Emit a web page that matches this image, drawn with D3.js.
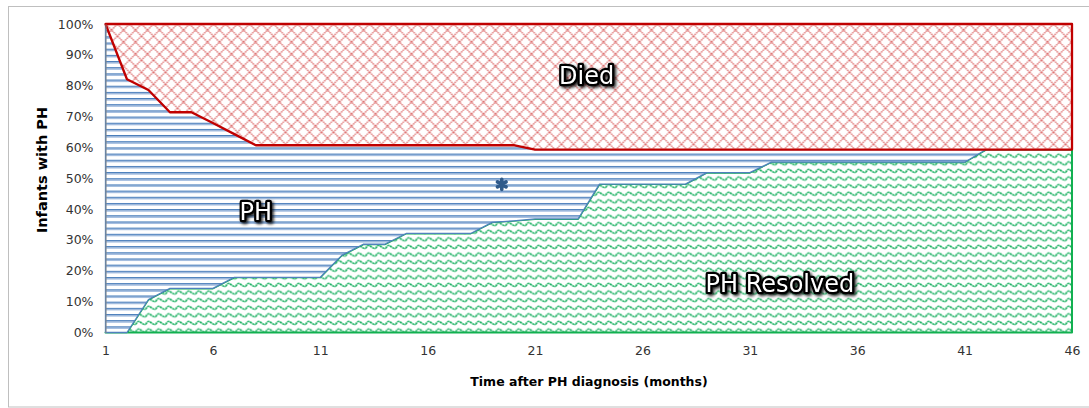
<!DOCTYPE html>
<html>
<head>
<meta charset="utf-8">
<script src="https://cdn.jsdelivr.net/npm/d3@7"></script>
<style>
  body { margin: 0; background: #fff; }
  svg { display: block; }
  .tick text { font-family: "DejaVu Sans", sans-serif; font-size: 12.5px; fill: #333; }
</style>
</head>
<body>
<div id="chart"></div>
<script>
// months after diagnosis (category axis)
var months = d3.range(1, 47);
// % of infants, stacked bottom to top
var resolved = [0, 0, 10.7, 14.3, 14.3, 14.3, 17.9, 17.9, 17.9, 17.9,
  17.9, 25.0, 28.6, 28.6, 32.1, 32.1, 32.1, 32.1, 35.7, 36.2,
  36.8, 36.8, 36.8, 48.1, 48.1, 48.1, 48.1, 48.1, 51.8, 51.8,
  51.8, 55.2, 55.2, 55.2, 55.2, 55.2, 55.2, 55.2, 55.2, 55.2,
  55.2, 59.3, 59.3, 59.3, 59.3, 59.3];
var ph = [100, 82.1, 67.9, 57.1, 57.1, 53.6, 46.4, 42.8, 42.8, 42.8,
  42.8, 35.7, 32.1, 32.1, 28.6, 28.6, 28.6, 28.6, 25.0, 24.5,
  22.5, 22.5, 22.5, 11.2, 11.2, 11.2, 11.2, 11.2, 7.5, 7.5,
  7.5, 4.1, 4.1, 4.1, 4.1, 4.1, 4.1, 4.1, 4.1, 4.1,
  4.1, 0, 0, 0, 0, 0];
var died = [0, 17.9, 21.4, 28.6, 28.6, 32.1, 35.7, 39.3, 39.3, 39.3,
  39.3, 39.3, 39.3, 39.3, 39.3, 39.3, 39.3, 39.3, 39.3, 39.3,
  40.7, 40.7, 40.7, 40.7, 40.7, 40.7, 40.7, 40.7, 40.7, 40.7,
  40.7, 40.7, 40.7, 40.7, 40.7, 40.7, 40.7, 40.7, 40.7, 40.7,
  40.7, 40.7, 40.7, 40.7, 40.7, 40.7];
var xTicks = [1, 6, 11, 16, 21, 26, 31, 36, 41, 46];
var yTicks = [0, 10, 20, 30, 40, 50, 60, 70, 80, 90, 100];
var marker = [19.45, 48];   // stray point marker
var areaLabels = [
  {text: 'Died', x: 23.4, y: 80.5},
  {text: 'PH', x: 8.0, y: 36.5},
  {text: 'PH Resolved', x: 32.4, y: 13}
];

var W = 1089, H = 408;
var pLeft = 105.5, pRight = 1072, pTop = 24, pBottom = 332.5;

var svg = d3.select('#chart').append('svg').attr('width', W).attr('height', H);

// outer chart border
svg.append('rect').attr('x', 8.5).attr('y', 6.5).attr('width', 1100).attr('height', 400.5)
  .attr('fill', 'none').attr('stroke', '#bfbfbf').attr('stroke-width', 1);

var x = d3.scaleLinear().domain([1, 46]).range([pLeft, pRight]);
var y = d3.scaleLinear().domain([0, 100]).range([pBottom, pTop]);

// fill patterns
var defs = svg.append('defs');
var pRed = defs.append('pattern').attr('id', 'pDied').attr('patternUnits', 'userSpaceOnUse')
  .attr('width', 12).attr('height', 12).attr('x', pLeft).attr('y', pTop);
pRed.append('rect').attr('width', 12).attr('height', 12).attr('fill', '#fff');
pRed.append('path').attr('d', 'M0,0L12,12M12,0L0,12')
  .attr('stroke', '#d85f5f').attr('stroke-width', 1.4).attr('stroke-dasharray', '1.6,0.7')
  .attr('stroke-opacity', 0.85);

var pBlue = defs.append('pattern').attr('id', 'pPH').attr('patternUnits', 'userSpaceOnUse')
  .attr('width', 8).attr('height', 6.17).attr('y', pTop);
pBlue.append('rect').attr('width', 8).attr('height', 6.17).attr('fill', '#fff');
pBlue.append('rect').attr('y', 0).attr('width', 8).attr('height', 1.4).attr('fill', '#4a7ebb');
pBlue.append('rect').attr('y', 1.4).attr('width', 8).attr('height', 1.2).attr('fill', '#a3bde0');

var pGreen = defs.append('pattern').attr('id', 'pRes').attr('patternUnits', 'userSpaceOnUse')
  .attr('width', 10).attr('height', 7.6).attr('x', pLeft);
pGreen.append('rect').attr('width', 10).attr('height', 7.6).attr('fill', '#fff');
pGreen.append('path').attr('d', 'M0,5.4Q2.5,0.6 5,3T10,5.4')
  .attr('fill', 'none').attr('stroke', '#00a84f').attr('stroke-width', 1.5)
  .attr('stroke-dasharray', '2.2,0.7');

// x axis line (under areas)
svg.append('line').attr('x1', pLeft).attr('x2', pRight).attr('y1', pBottom).attr('y2', pBottom)
  .attr('stroke', '#868686');

var table = months.map(function(m, i){
  return {month: m, resolved: resolved[i], ph: ph[i], died: died[i]};
});
var keys = ['resolved', 'ph', 'died'];
var stack = d3.stack().keys(keys)(table);

var fills = {resolved: 'url(#pRes)', ph: 'url(#pPH)', died: 'url(#pDied)'};
var strokes = {resolved: '#12b050', ph: '#4f81bd', died: '#c00000'};
var widths = {resolved: 2, ph: 1.3, died: 2.3};

var area = d3.area()
  .x(function(d){ return x(d.data.month); })
  .y0(function(d){ return y(d[0]); })
  .y1(function(d){ return y(d[1]); });

svg.append('g').selectAll('path').data(stack).enter()
  .append('path')
  .attr('d', function(s){ return area(s) + 'Z'; })
  .attr('fill', function(s){ return fills[s.key]; })
  .attr('stroke', function(s){ return strokes[s.key]; })
  .attr('stroke-width', function(s){ return widths[s.key]; })
  .attr('stroke-linejoin', 'round');

// axes
var yAxis = svg.append('g').attr('transform', 'translate(' + pLeft + ',0)')
  .call(d3.axisLeft(y).tickValues(yTicks).tickSize(0).tickPadding(12)
    .tickFormat(function(d){ return d + '%'; }));
yAxis.select('.domain').attr('stroke', '#868686');

var xAxis = svg.append('g').attr('transform', 'translate(0,' + pBottom + ')')
  .call(d3.axisBottom(x).tickValues(xTicks).tickSize(0).tickPadding(14)
    .tickFormat(d3.format('d')));
xAxis.select('.domain').remove();

// marker (star-shaped blob)
svg.append('path')
  .attr('transform', 'translate(' + x(marker[0]) + ',' + y(marker[1]) + ')')
  .attr('d', d3.symbol(d3.symbolAsterisk, 70)())
  .attr('fill', 'none').attr('stroke', '#2f5a8a').attr('stroke-width', 3.6)
  .attr('stroke-linecap', 'round');

// glow filter for area labels
var f = defs.append('filter').attr('id', 'shadow').attr('x', '-20%').attr('y', '-30%')
  .attr('width', '140%').attr('height', '160%');
f.append('feDropShadow').attr('dx', 1.8).attr('dy', 1.8).attr('stdDeviation', 1.6)
  .attr('flood-color', '#000').attr('flood-opacity', 0.85);

svg.append('g').selectAll('text').data(areaLabels).enter()
  .append('text')
  .text(function(d){ return d.text; })
  .attr('x', function(d){ return x(d.x); })
  .attr('y', function(d){ return y(d.y); })
  .attr('text-anchor', 'middle')
  .attr('font-family', 'DejaVu Sans, sans-serif')
  .attr('font-size', '24px')
  .attr('fill', '#fff')
  .attr('stroke', '#000')
  .attr('stroke-width', 4.5)
  .attr('stroke-linejoin', 'round')
  .attr('paint-order', 'stroke')
  .attr('filter', 'url(#shadow)');

// axis titles
svg.append('text').text('Time after PH diagnosis (months)')
  .attr('x', 589).attr('y', 386).attr('text-anchor', 'middle')
  .attr('font-family', 'DejaVu Sans, sans-serif').attr('font-weight', 'bold')
  .attr('font-size', '12.5px').attr('fill', '#000');

svg.append('text').text('Infants with PH')
  .attr('transform', 'translate(47,170) rotate(-90)').attr('text-anchor', 'middle')
  .attr('font-family', 'DejaVu Sans, sans-serif').attr('font-weight', 'bold')
  .attr('font-size', '14.5px').attr('fill', '#000');
</script>
</body>
</html>
